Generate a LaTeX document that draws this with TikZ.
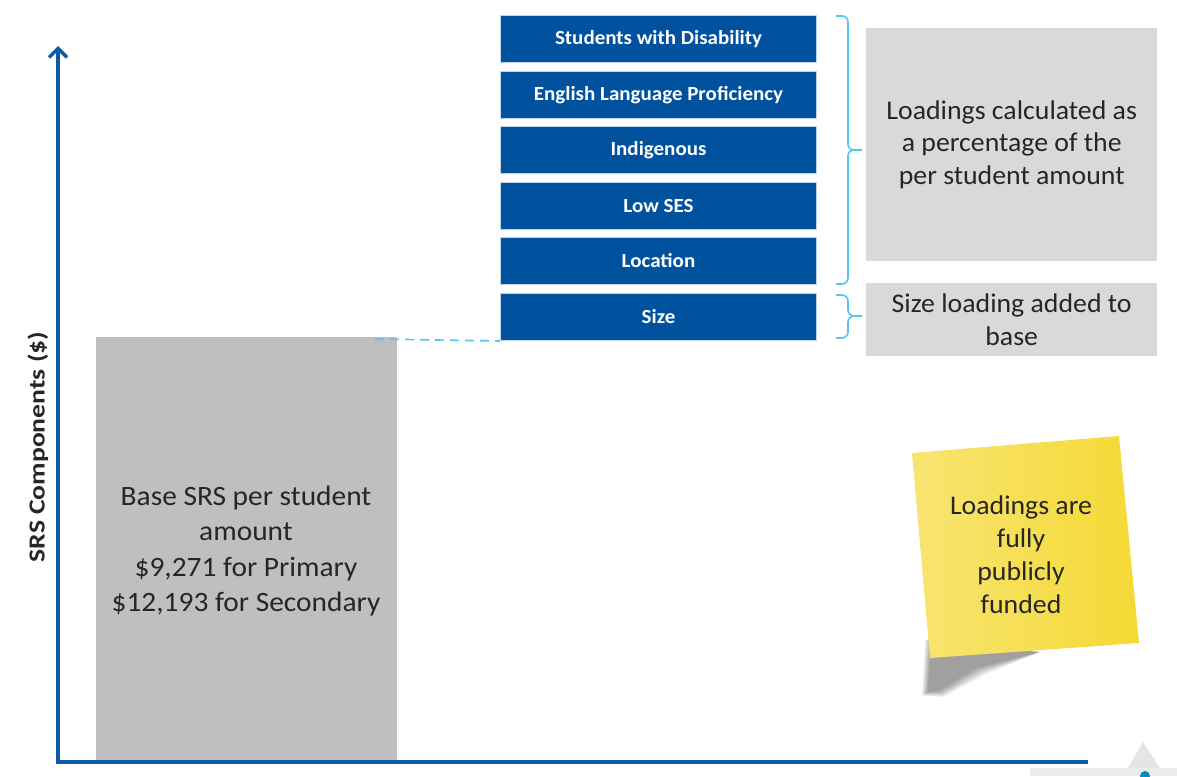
\documentclass[tikz,border=0pt]{standalone}
\usepackage{fontspec}
\setmainfont{Carlito}
\usetikzlibrary{shadings,fadings,arrows.meta}
\definecolor{navy}{HTML}{00529F}
\definecolor{axisblue}{HTML}{0B5AA8}
\definecolor{lightblue}{HTML}{57C5F0}
\definecolor{greyA}{HTML}{BFBFBF}
\definecolor{greyB}{HTML}{D9D9D9}
\definecolor{txt}{HTML}{262626}
\definecolor{stickyA}{HTML}{F5D935}
\definecolor{stickyB}{HTML}{F8E472}
\tikzset{
  loadbox/.style={fill=navy, draw=white!75!navy, line width=1pt, minimum width=316pt, minimum height=47pt,
    inner sep=0pt, text=white, font=\fontsize{20}{22}\selectfont\bfseries\addfontfeatures{FakeStretch=1.05}, anchor=north west},
  infobox/.style={fill=greyB, inner sep=0pt, text=txt, align=center, font=\fontsize{27}{32.5}\selectfont\addfontfeatures{FakeStretch=1.03}, anchor=north west},
  bracepath/.style={draw=lightblue, line width=1.6pt, rounded corners=6pt},
  axisline/.style={draw=axisblue, line width=4pt}
}
\begin{document}
\begin{tikzpicture}[x=1pt,y=-1pt]
\useasboundingbox (0,0) rectangle (1177,776);
% base box
\node[fill=greyA, inner sep=0pt, minimum width=301pt, minimum height=423pt, anchor=north west] (base) at (96,337) {};
\node[text=txt, align=center, font=\fontsize{28}{35.5}\selectfont\addfontfeatures{FakeStretch=1.05}] (basetxt) at (246,551)
  {Base SRS per student\\amount\\\$9,271 for Primary\\\$12,193 for Secondary};
% axes
\coordinate (origin) at (58,762);
\coordinate (ytop) at (58,46);
\coordinate (xend) at (1088,762);
\draw[axisline, line cap=butt, -{Straight Barb[length=9pt,width=18pt,line width=3.5pt]}] (origin) -- (ytop);
\draw[axisline] (56,762) -- (xend);
\node[rotate=90, text=txt, font=\fontsize{23}{26}\selectfont\bfseries\addfontfeatures{FakeStretch=1.2}] (ylabel) at (38,447) {SRS Components (\$)};
% loading boxes
\node[loadbox] (swd) at (500,15) {Students with Disability};
\node[loadbox] (elp) at (500,71) {English Language Proficiency};
\node[loadbox] (ind) at (500,126) {Indigenous};
\node[loadbox] (ses) at (500,182) {Low SES};
\node[loadbox] (loc) at (500,237) {Location};
\node[loadbox] (size) at (500,293) {Size};
% dashed link
\coordinate (dashstart) at (375,339);
\draw[draw=lightblue, line width=1.6pt, dash pattern=on 9pt off 6pt] (dashstart) -- (size.south west);
% info boxes
\node[infobox, minimum width=291pt, minimum height=233pt] (info1) at (866,28) {Loadings calculated as\\a percentage of the\\per student amount};
\node[infobox, minimum width=291pt, minimum height=73pt, font=\fontsize{27}{33}\selectfont\addfontfeatures{FakeStretch=1.03}] (info2) at (866,283) {Size loading added to\\base};
% braces
\coordinate (b1tip) at (862,150);
\coordinate (b2tip) at (862,316);
\draw[bracepath] (836,16) -- (848,16) -- (848,150) -- (b1tip);
\draw[bracepath] (836,284) -- (848,284) -- (848,150) -- (b1tip);
\draw[bracepath] (836,295) -- (848,295) -- (848,316) -- (b2tip);
\draw[bracepath] (836,338) -- (848,338) -- (848,316) -- (b2tip);
% sticky note shadow (soft, below the bottom-left corner)
\foreach \s in {12,11,...,0}{
  \fill[black, opacity=0.035] (932-\s*0.6,640) -- (1040,652) -- (975+\s,668+\s*0.5) -- (940+\s*0.3,690+\s*0.6) -- (928-\s*0.5,692+\s*0.3) -- cycle;
}
% sticky note
\shade[shading=axis, shading angle=55, left color=stickyB, right color=stickyA]
  (912,453) -- (1119,436) -- (1139,643) -- (930,658) -- cycle;
\node[text=txt, align=center, font=\fontsize{27}{33}\selectfont\addfontfeatures{FakeStretch=1.03}] (note) at (1021,555) {Loadings are\\fully\\publicly\\funded};
% bottom right fragment
\fill[gray!15] (1030,768) rectangle (1177,776);
\fill[gray!20] (1128,768) -- (1143,742) -- (1160,768) -- cycle;
\fill[axisblue!70!cyan] (1145,776) circle (5pt);
\end{tikzpicture}
\end{document}
